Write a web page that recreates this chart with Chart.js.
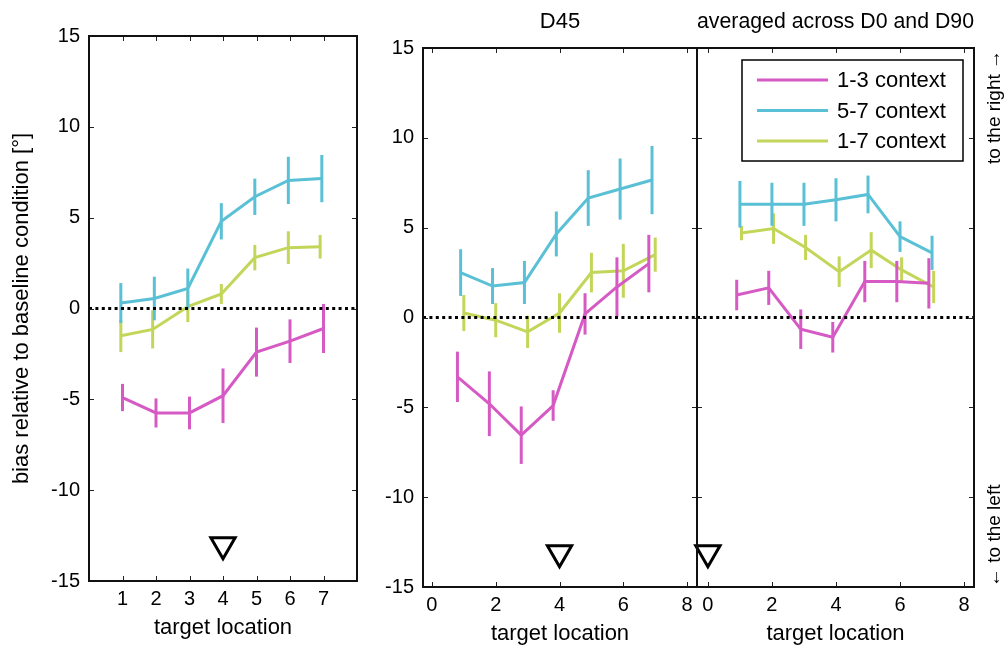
<!DOCTYPE html>
<html lang="en">
<head>
<meta charset="UTF-8">
<title>bias relative to baseline condition</title>
<script src="https://cdn.jsdelivr.net/npm/chart.js"></script>
<style>
  body { margin: 0; background: #fff; }
  #wrap { position: relative; width: 1008px; height: 646px; overflow: hidden; background: #fff; }
  #wrap canvas { position: absolute; top: 0; }
</style>
</head>
<body>
<div id="wrap">
  <canvas id="panelA" width="372" height="646" style="left:0px"></canvas>
  <canvas id="panelB" width="330" height="646" style="left:372px"></canvas>
  <canvas id="panelC" width="328" height="646" style="left:680px"></canvas>
</div>
<script>
// series
const seriesNames = ['1-3 context', '5-7 context', '1-7 context'];
const seriesColors = ['#d65ac4', '#5ac0d6', '#c4d65a'];

// left panel (no title)
const leftX13 = [1, 2, 3, 4, 5, 6, 7];
const leftY13 = [-4.9, -5.75, -5.75, -4.8, -2.4, -1.8, -1.1];
const leftE13 = [0.75, 0.8, 0.9, 1.5, 1.35, 1.2, 1.35];
const leftX57 = [0.95, 1.95, 2.95, 3.95, 4.95, 5.95, 6.95];
const leftY57 = [0.3, 0.55, 1.1, 4.8, 6.15, 7.05, 7.15];
const leftE57 = [1.1, 1.2, 1.1, 1.0, 1.0, 1.3, 1.3];
const leftX17 = [0.95, 1.9, 2.95, 3.95, 4.95, 5.95, 6.9];
const leftY17 = [-1.5, -1.15, 0.1, 0.8, 2.8, 3.35, 3.4];
const leftE17 = [0.9, 1.05, 0.85, 0.55, 0.7, 0.9, 0.65];

// D45
const d45X13 = [0.8, 1.8, 2.8, 3.8, 4.8, 5.8, 6.8];
const d45Y13 = [-3.3, -4.8, -6.55, -4.9, 0.2, 1.7, 3.0];
const d45E13 = [1.4, 1.8, 1.6, 0.85, 1.15, 1.65, 1.6];
const d45X57 = [0.9, 1.9, 2.9, 3.9, 4.9, 5.9, 6.9];
const d45Y57 = [2.5, 1.75, 1.95, 4.65, 6.65, 7.15, 7.65];
const d45E57 = [1.3, 1.0, 1.2, 1.25, 1.55, 1.7, 1.9];
const d45X17 = [1, 2, 3, 4, 5, 6, 7];
const d45Y17 = [0.25, -0.15, -0.8, 0.25, 2.5, 2.6, 3.5];
const d45E17 = [1.0, 0.95, 0.9, 1.1, 1.1, 1.5, 0.95];

// averaged across D0 and D90
const avgX13 = [0.9, 1.9, 2.9, 3.9, 4.9, 5.9, 6.9];
const avgY13 = [1.25, 1.65, -0.65, -1.1, 2.0, 2.0, 1.9];
const avgE13 = [0.85, 0.95, 1.1, 0.85, 1.15, 1.15, 1.4];
const avgX57 = [1, 2, 3, 4, 5, 6, 7];
const avgY57 = [6.3, 6.3, 6.3, 6.55, 6.85, 4.5, 3.6];
const avgE57 = [1.3, 1.2, 1.2, 1.2, 1.05, 0.85, 0.95];
const avgX17 = [1.05, 2.05, 3.05, 4.1, 5.1, 6.05, 7.05];
const avgY17 = [4.7, 4.95, 3.9, 2.55, 3.75, 2.65, 1.7];
const avgE17 = [0.4, 0.85, 0.7, 0.85, 1.0, 0.7, 0.9];

// reference location markers (triangles)
const leftMarker = [{x: 4, y: -13.0}];
const d45Marker = [{x: 4, y: -13.1}];
const avgMarker = [{x: 0, y: -13.1}];

// tick labels
const yTicks = [-15, -10, -5, 0, 5, 10, 15];
const leftXTicks = [1, 2, 3, 4, 5, 6, 7];
const rightXTicks = [0, 2, 4, 6, 8];

const FONT = '"Liberation Sans", Arial, sans-serif';
Chart.defaults.font.family = FONT;
Chart.defaults.color = '#000';

function series(i, xs, ys, es) {
    return {
        label: seriesNames[i],
        data: xs.map((x, k) => ({x: x, y: ys[k]})),
        errors: es,
        borderColor: seriesColors[i],
        backgroundColor: seriesColors[i],
        borderWidth: 3,
        pointRadius: 0,
        showLine: true,
        tension: 0
    };
}

function zeroLine(xmin, xmax) {
    return {
        label: 'zero',
        data: [{x: xmin, y: 0}, {x: xmax, y: 0}],
        borderColor: '#000',
        borderWidth: 3,
        borderDash: [3, 3.4],
        pointRadius: 0,
        showLine: true
    };
}

function marker(pts) {
    return {
        label: 'marker',
        data: pts,
        pointStyle: 'triangle',
        rotation: 180,
        pointRadius: 14,
        borderColor: '#000',
        borderWidth: 3,
        backgroundColor: 'rgba(255,255,255,0)',
        showLine: false,
        clip: false
    };
}

// vertical error bars, drawn with the chart's own scales
const errorBars = {
    id: 'errorBars',
    afterDatasetDraw(chart, args) {
        const ds = chart.data.datasets[args.index];
        if (!ds.errors) return;
        const ctx = chart.ctx;
        const xs = chart.scales.x, ys = chart.scales.y;
        ctx.save();
        ctx.strokeStyle = ds.borderColor;
        ctx.lineWidth = 3;
        ds.data.forEach((p, k) => {
            const px = xs.getPixelForValue(p.x);
            const top = ys.getPixelForValue(p.y + ds.errors[k]);
            const bot = ys.getPixelForValue(p.y - ds.errors[k]);
            ctx.beginPath();
            ctx.moveTo(px, top);
            ctx.lineTo(px, bot);
            ctx.stroke();
        });
        ctx.restore();
    }
};

// box round the plot with inward ticks on all sides
const frame = {
    id: 'frame',
    afterDraw(chart) {
        const ctx = chart.ctx;
        const a = chart.chartArea;
        const xs = chart.scales.x, ys = chart.scales.y;
        ctx.save();
        ctx.strokeStyle = '#222';
        ctx.lineWidth = 1;
        ctx.beginPath();
        xs.ticks.forEach(t => {
            const px = Math.round(xs.getPixelForValue(t.value)) + 0.5;
            ctx.moveTo(px, a.bottom); ctx.lineTo(px, a.bottom - 5);
            ctx.moveTo(px, a.top); ctx.lineTo(px, a.top + 5);
        });
        ys.ticks.forEach(t => {
            const py = Math.round(ys.getPixelForValue(t.value)) + 0.5;
            ctx.moveTo(a.left, py); ctx.lineTo(a.left + 5, py);
            ctx.moveTo(a.right, py); ctx.lineTo(a.right - 5, py);
        });
        ctx.stroke();
        ctx.lineWidth = 2;
        ctx.strokeStyle = '#111';
        ctx.strokeRect(a.left, a.top, a.right - a.left, a.bottom - a.top);
        ctx.restore();
    }
};

// legend box inside the right panel
const boxLegend = {
    id: 'boxLegend',
    afterDraw(chart) {
        const ctx = chart.ctx;
        const a = chart.chartArea;
        const left = a.left + 45, top = a.top + 12, w = 221, h = 101;
        ctx.save();
        ctx.fillStyle = '#fff';
        ctx.fillRect(left, top, w, h);
        ctx.strokeStyle = '#000';
        ctx.lineWidth = 1.5;
        ctx.strokeRect(left, top, w, h);
        ctx.font = '22px ' + FONT;
        ctx.textBaseline = 'middle';
        ctx.textAlign = 'left';
        const rows = chart.data.datasets.filter(d => d.errors);
        rows.forEach((d, k) => {
            const y = top + 20 + k * 30.5;
            ctx.strokeStyle = d.borderColor;
            ctx.lineWidth = 3;
            ctx.beginPath();
            ctx.moveTo(left + 15, y);
            ctx.lineTo(left + 86, y);
            ctx.stroke();
            ctx.fillStyle = '#000';
            ctx.fillText(d.label, left + 95, y + 1);
        });
        ctx.restore();
    }
};

// direction notes on the far right
const sideNotes = {
    id: 'sideNotes',
    afterDraw(chart) {
        const ctx = chart.ctx;
        const a = chart.chartArea;
        ctx.save();
        ctx.font = '19px ' + FONT;
        ctx.fillStyle = '#000';
        ctx.textBaseline = 'middle';
        ctx.translate(a.right + 21, 0);
        ctx.rotate(-Math.PI / 2);
        ctx.textAlign = 'right';
        ctx.fillText('to the right \u2192', -a.top - 2, 0);
        ctx.textAlign = 'left';
        ctx.fillText('\u2190 to the left', -a.bottom, 0);
        ctx.restore();
    }
};

function makePanel(id, opt) {
    const xTicks = opt.xTicks;
    return new Chart(document.getElementById(id), {
        type: 'scatter',
        data: {datasets: opt.datasets},
        options: {
            responsive: false,
            animation: false,
            layout: {autoPadding: false, padding: {left: 0, right: opt.padRight, top: opt.padTop, bottom: 0}},
            plugins: {
                legend: {display: false},
                tooltip: {enabled: false},
                title: {
                    display: !!opt.title,
                    text: opt.title || '',
                    fullSize: false,
                    font: {size: 22, weight: 'normal', lineHeight: 1},
                    color: '#000',
                    padding: {top: 11, bottom: 15}
                }
            },
            scales: {
                x: {
                    type: 'linear',
                    min: opt.xmin,
                    max: opt.xmax,
                    afterBuildTicks: s => { s.ticks = xTicks.map(v => ({value: v})); },
                    afterFit: s => { s.height = opt.xHeight; s.paddingLeft = 0; s.paddingRight = 0; },
                    grid: {display: false, drawTicks: false},
                    border: {display: false},
                    ticks: {font: {size: 20}, color: '#000', padding: 6, maxRotation: 0, autoSkip: false},
                    title: {display: true, text: 'target location', font: {size: 22, lineHeight: 1}, color: '#000', padding: {top: 0, bottom: opt.xTitlePad}}
                },
                y: {
                    min: -15,
                    max: 15,
                    afterBuildTicks: s => { s.ticks = yTicks.map(v => ({value: v})); },
                    afterFit: s => { s.width = opt.yWidth; s.paddingTop = 0; s.paddingBottom = 0; },
                    grid: {display: false, drawTicks: false},
                    border: {display: false},
                    ticks: {display: opt.yLabels, font: {size: 20}, color: '#000', padding: 9},
                    title: {display: !!opt.yTitle, text: opt.yTitle || '', font: {size: 22, lineHeight: 1}, color: '#000', padding: {top: 11, bottom: 0}}
                }
            }
        },
        plugins: opt.plugins
    });
}

makePanel('panelA', {
    datasets: [
        zeroLine(0, 8),
        series(0, leftX13, leftY13, leftE13),
        series(1, leftX57, leftY57, leftE57),
        series(2, leftX17, leftY17, leftE17),
        marker(leftMarker)
    ],
    xmin: 0, xmax: 8, xTicks: leftXTicks,
    padTop: 36, padRight: 15, yWidth: 89, xHeight: 65, xTitlePad: 7,
    yLabels: true, yTitle: 'bias relative to baseline condition [\u00b0]',
    plugins: [errorBars, frame]
});

makePanel('panelB', {
    datasets: [
        zeroLine(-0.28, 8.31),
        series(0, d45X13, d45Y13, d45E13),
        series(1, d45X57, d45Y57, d45E57),
        series(2, d45X17, d45Y17, d45E17),
        marker(d45Marker)
    ],
    xmin: -0.28, xmax: 8.31, xTicks: rightXTicks,
    title: 'D45',
    padTop: 0, padRight: 5, yWidth: 51, xHeight: 59, xTitlePad: 1,
    yLabels: true,
    plugins: [errorBars, frame]
});

makePanel('panelC', {
    datasets: [
        zeroLine(-0.34, 8.31),
        series(0, avgX13, avgY13, avgE13),
        series(1, avgX57, avgY57, avgE57),
        series(2, avgX17, avgY17, avgE17),
        marker(avgMarker)
    ],
    xmin: -0.34, xmax: 8.31, xTicks: rightXTicks,
    title: 'averaged across D0 and D90',
    padTop: 0, padRight: 34, yWidth: 17, xHeight: 59, xTitlePad: 1,
    yLabels: false,
    plugins: [errorBars, frame, boxLegend, sideNotes]
});
</script>
</body>
</html>
